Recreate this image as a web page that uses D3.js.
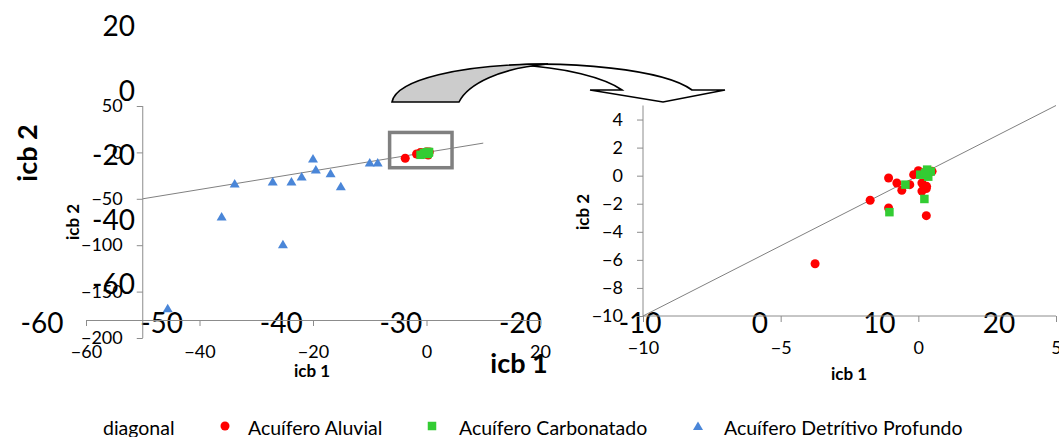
<!DOCTYPE html>
<html>
<head>
<meta charset="utf-8">
<script src="https://cdn.jsdelivr.net/npm/d3@7"></script>
<style>
  body { margin: 0; background: #fff; }
  svg { display: block; }
  text { font-family: Lato, "Open Sans", sans-serif; fill: #000; }
</style>
</head>
<body>
<svg id="chart" width="1059" height="437"></svg>
<script>
// Acuífero Aluvial (icb 1, icb 2)
const aluvialX = [-3.75, -1.75, -1.08, -1.08, -0.78, -0.60, -0.31, -0.17, 0.00, 0.13, 0.13, 0.29, 0.29, 0.30, 0.50, 0.18];
const aluvialY = [-6.28, -1.75, -0.17, -2.30, -0.52, -1.04, -0.64, 0.07, 0.35, -0.52, -1.10, -0.92, -2.85, -0.76, 0.31, 0.20];
// Acuífero Carbonatado
const carbX = [-1.05, -0.47, 0.22, 0.07, 0.32, 0.36, 0.45, 0.25];
const carbY = [-2.60, -0.64, -1.66, 0.07, 0.43, -0.07, 0.30, 0.20];
// Acuífero Detrítivo Profundo
const detrX = [-33.8, -36.1, -27.1, -23.8, -22.0, -20.0, -19.5, -16.9, -15.1, -10.0, -8.6, -25.3, -45.6];
const detrY = [-33.4, -69.0, -31.3, -31.3, -25.9, -6.5, -18.3, -22.6, -36.6, -10.8, -10.8, -99.0, -168.0];

// overview panel ticks
const leftXTicks = [-60, -40, -20, 0, 20];
const leftYTicks = [50, 0, -50, -100, -150, -200];
const leftDiag = [-50, 10];
// detail panel ticks
const rightXTicks = [-10, -5, 0, 5];
const rightYTicks = [-10, -8, -6, -4, -2, 0, 2, 4];
const rightDiag = [-10, 5];
// large background scale labels
const bigXTicks = [-60, -50, -40, -30, -20, -10, 0, 10, 20];
const bigYTicks = [20, 0, -20, -40, -60];

const legendNames = ["diagonal", "Acuífero Aluvial", "Acuífero Carbonatado", "Acuífero Detrítivo Profundo"];

const RED = "#ff0000", GREEN = "#33cc33", BLUE = "#4a86d8", AXIS = "#8c8c8c", DIAG = "#808080";
const TICK_FONT = "18px";

const svg = d3.select("#chart");

const aluvial = aluvialX.map((x, i) => [x, aluvialY[i]]);
const carb = carbX.map((x, i) => [x, carbY[i]]);
const detr = detrX.map((x, i) => [x, detrY[i]]);

const triPath = "M0,-4.5L5,4L-5,4Z";

// ---------- large background scale labels ----------
const bx = d3.scaleLinear().domain([-60, 20]).range([42, 999]);
const by = d3.scaleLinear().domain([20, -60]).range([25, 283]);
const bigG = svg.append("g").style("font-size", "28px");
bigG.selectAll("text.bx").data(bigXTicks).join("text")
  .attr("x", d => bx(d)).attr("y", 322)
  .attr("text-anchor", "middle").attr("dominant-baseline", "central")
  .text(d => d);
bigG.selectAll("text.by").data(bigYTicks).join("text")
  .attr("x", 135).attr("y", d => by(d))
  .attr("text-anchor", "end").attr("dominant-baseline", "central")
  .text(d => d);
svg.append("text").attr("transform", "translate(26,153) rotate(-90)")
  .attr("text-anchor", "middle").attr("dominant-baseline", "central")
  .style("font-size", "27px").style("font-weight", "bold").text("icb 2");
svg.append("text").attr("x", 519).attr("y", 362)
  .attr("text-anchor", "middle").attr("dominant-baseline", "central")
  .style("font-size", "27px").style("font-weight", "bold").text("icb 1");

// ---------- overview panel ----------
const xL = d3.scaleLinear().domain([-60, 20]).range([86, 540]);
const yL = d3.scaleLinear().domain([-200, 50]).range([338, 106]);
const L = svg.append("g");

const yAxisL = L.append("g").attr("transform", `translate(${xL(-50)},0)`)
  .call(d3.axisLeft(yL).tickValues(leftYTicks).tickSize(6).tickPadding(14));
const xAxisL = L.append("g").attr("transform", "translate(0,320)")
  .call(d3.axisBottom(xL).tickValues(leftXTicks).tickSize(6).tickPadding(19));
[yAxisL, xAxisL].forEach(a => {
  a.selectAll("path, line").attr("stroke", AXIS);
  a.selectAll("text").style("font-size", TICK_FONT).attr("fill", "#000")
    .style("font-family", "Lato, 'Open Sans', sans-serif");
});
yAxisL.select("path").attr("d", `M-0,${yL(50)}V${yL(-200)}`);

L.append("line")
  .attr("x1", xL(leftDiag[0])).attr("y1", yL(leftDiag[0]))
  .attr("x2", xL(leftDiag[1])).attr("y2", yL(leftDiag[1]))
  .attr("stroke", DIAG).attr("stroke-width", 1);

L.selectAll("path.tri").data(detr).join("path").attr("class", "tri")
  .attr("d", triPath).attr("fill", BLUE)
  .attr("transform", d => `translate(${xL(d[0])},${yL(d[1])})`);
L.selectAll("circle.al").data(aluvial).join("circle").attr("class", "al")
  .attr("cx", d => xL(d[0])).attr("cy", d => yL(d[1])).attr("r", 4.5).attr("fill", RED);
L.selectAll("rect.cb").data(carb).join("rect").attr("class", "cb")
  .attr("x", d => xL(d[0]) - 4.25).attr("y", d => yL(d[1]) - 4.25)
  .attr("width", 8.5).attr("height", 8.5).attr("fill", GREEN);

L.append("text").attr("transform", `translate(72,222) rotate(-90)`)
  .attr("text-anchor", "middle").attr("dominant-baseline", "central")
  .style("font-size", "17px").style("font-weight", "bold").text("icb 2");
L.append("text").attr("x", 312).attr("y", 370)
  .attr("text-anchor", "middle").attr("dominant-baseline", "central")
  .style("font-size", "17px").style("font-weight", "bold").text("icb 1");

// zoom frame around the cluster near the origin
L.append("rect")
  .attr("x", xL(-6.5)).attr("y", yL(21.5))
  .attr("width", xL(4.5) - xL(-6.5)).attr("height", yL(-16.5) - yL(21.5))
  .attr("fill", "none").attr("stroke", "#808080").attr("stroke-width", 3.5);

// ---------- detail panel ----------
const xR = d3.scaleLinear().domain([-10, 5]).range([643, 1056]);
const yR = d3.scaleLinear().domain([-10, 5]).range([316, 105.5]);
const R = svg.append("g");

const yAxisR = R.append("g").attr("transform", `translate(${xR(-10)},0)`)
  .call(d3.axisLeft(yR).tickValues(rightYTicks).tickSize(6).tickPadding(14));
const xAxisR = R.append("g").attr("transform", `translate(0,${yR(-10)})`)
  .call(d3.axisBottom(xR).tickValues(rightXTicks).tickSize(6).tickPadding(19));
[yAxisR, xAxisR].forEach(a => {
  a.selectAll("path, line").attr("stroke", AXIS);
  a.selectAll("text").style("font-size", TICK_FONT).attr("fill", "#000")
    .style("font-family", "Lato, 'Open Sans', sans-serif");
});
yAxisR.select("path").attr("d", `M-0,${yR(5)}V${yR(-10)}`);
xAxisR.select("path").attr("d", `M${xR(-10)},0H${xR(5)}`);

R.append("line")
  .attr("x1", xR(rightDiag[0])).attr("y1", yR(rightDiag[0]))
  .attr("x2", xR(rightDiag[1])).attr("y2", yR(rightDiag[1]))
  .attr("stroke", DIAG).attr("stroke-width", 1);

const inR = d => d[0] >= -10 && d[0] <= 5 && d[1] >= -10 && d[1] <= 5;
R.selectAll("path.tri").data(detr.filter(inR)).join("path").attr("class", "tri")
  .attr("d", triPath).attr("fill", BLUE)
  .attr("transform", d => `translate(${xR(d[0])},${yR(d[1])})`);
R.selectAll("circle.al").data(aluvial.filter(inR)).join("circle").attr("class", "al")
  .attr("cx", d => xR(d[0])).attr("cy", d => yR(d[1])).attr("r", 4.5).attr("fill", RED);
R.selectAll("rect.cb").data(carb.filter(inR)).join("rect").attr("class", "cb")
  .attr("x", d => xR(d[0]) - 4.25).attr("y", d => yR(d[1]) - 4.25)
  .attr("width", 8.5).attr("height", 8.5).attr("fill", GREEN);

R.append("text").attr("transform", `translate(582,212) rotate(-90)`)
  .attr("text-anchor", "middle").attr("dominant-baseline", "central")
  .style("font-size", "17px").style("font-weight", "bold").text("icb 2");
R.append("text").attr("x", 849).attr("y", 373)
  .attr("text-anchor", "middle").attr("dominant-baseline", "central")
  .style("font-size", "17px").style("font-weight", "bold").text("icb 1");

// ---------- curved arrow from the frame to the detail panel ----------
const front = d3.path();
front.moveTo(515, 65);
front.bezierCurveTo(565, 62, 662, 68, 692, 90);
front.lineTo(725, 90);
front.lineTo(663, 102);
front.lineTo(590, 90);
front.lineTo(622, 90);
front.bezierCurveTo(605, 78, 565, 67, 515, 65);
front.closePath();
svg.append("path").attr("d", front.toString())
  .attr("fill", "#fff").attr("stroke", "#000").attr("stroke-width", 1.6).attr("stroke-linejoin", "miter");

const back = d3.path();
back.moveTo(392, 102);
back.bezierCurveTo(396, 80, 460, 64, 548, 64);
back.bezierCurveTo(500, 68, 468, 84, 459, 102);
back.closePath();
svg.append("path").attr("d", back.toString())
  .attr("fill", "#cccccc").attr("stroke", "#000").attr("stroke-width", 1.6);

// ---------- legend ----------
const lg = svg.append("g").style("font-size", "19.5px");
const legendItems = [
  { name: legendNames[0], x: 103, sym: null },
  { name: legendNames[1], x: 248, sym: "circle", sx: 225, color: RED },
  { name: legendNames[2], x: 459, sym: "square", sx: 432, color: GREEN },
  { name: legendNames[3], x: 724, sym: "tri", sx: 698, color: BLUE }
];
legendItems.forEach(it => {
  lg.append("text").attr("x", it.x).attr("y", 427).attr("dominant-baseline", "central").text(it.name);
  if (it.sym === "circle") lg.append("circle").attr("cx", it.sx).attr("cy", 426).attr("r", 4.5).attr("fill", it.color);
  if (it.sym === "square") lg.append("rect").attr("x", it.sx - 4.25).attr("y", 426 - 4.25).attr("width", 8.5).attr("height", 8.5).attr("fill", it.color);
  if (it.sym === "tri") lg.append("path").attr("d", triPath).attr("transform", `translate(${it.sx},426)`).attr("fill", it.color);
});
</script>
</body>
</html>
